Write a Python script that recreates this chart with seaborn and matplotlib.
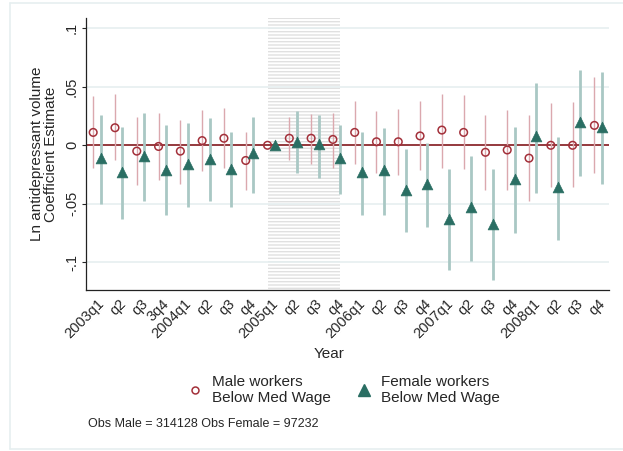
import numpy as np
import pandas as pd
import matplotlib
matplotlib.use('Agg')
import matplotlib.pyplot as plt
import seaborn as sns

# quarter labels as printed on the x axis
quarters = ['2003q1', 'q2', 'q3', '3q4', '2004q1', 'q2', 'q3', 'q4',
            '2005q1', 'q2', 'q3', 'q4', '2006q1', 'q2', 'q3', 'q4',
            '2007q1', 'q2', 'q3', 'q4', '2008q1', 'q2', 'q3', 'q4']

# male workers below median wage: estimate and 95% CI (2005q1 is the reference)
male_est = [0.011, 0.015, -0.005, -0.001, -0.005, 0.004, 0.006, -0.013,
            0.0, 0.006, 0.006, 0.005, 0.011, 0.003, 0.003, 0.008,
            0.013, 0.011, -0.006, -0.004, -0.011, 0.0, 0.0, 0.017]
male_hi = [0.042, 0.044, 0.024, 0.028, 0.022, 0.030, 0.032, 0.011,
           np.nan, 0.024, 0.027, 0.028, 0.038, 0.029, 0.031, 0.038,
           0.044, 0.043, 0.026, 0.030, 0.026, 0.036, 0.037, 0.058]
male_lo = [-0.019, -0.013, -0.034, -0.030, -0.033, -0.022, -0.019, -0.038,
           np.nan, -0.013, -0.016, -0.019, -0.016, -0.024, -0.025, -0.021,
           -0.019, -0.020, -0.038, -0.038, -0.048, -0.036, -0.036, -0.024]

# female workers below median wage
female_est = [-0.011, -0.023, -0.009, -0.021, -0.016, -0.012, -0.020, -0.007,
              0.0, 0.003, 0.001, -0.011, -0.023, -0.021, -0.038, -0.033,
              -0.063, -0.053, -0.067, -0.029, 0.008, -0.036, 0.020, 0.016]
female_hi = [0.026, 0.016, 0.028, 0.017, 0.019, 0.023, 0.011, 0.024,
             np.nan, 0.029, 0.026, 0.017, 0.011, 0.015, -0.003, 0.002,
             -0.020, -0.009, -0.020, 0.016, 0.053, 0.007, 0.064, 0.063]
female_lo = [-0.050, -0.063, -0.048, -0.060, -0.053, -0.048, -0.053, -0.041,
             np.nan, -0.024, -0.028, -0.042, -0.060, -0.060, -0.074, -0.070,
             -0.107, -0.099, -0.115, -0.075, -0.041, -0.081, -0.026, -0.033]

male_col = '#a3303a'
male_ci = '#dba8ae'
fem_col = '#2a6e63'
fem_ci = '#a9c8c4'
frame_col = '#e6eff0'

x = np.arange(len(quarters))
off = 0.17
df_m = pd.DataFrame({'x': x - off, 'est': male_est, 'lo': male_lo, 'hi': male_hi})
df_f = pd.DataFrame({'x': x + off, 'est': female_est, 'lo': female_lo, 'hi': female_hi})

sns.set_style('white')
plt.rcParams['font.family'] = ['Liberation Sans', 'DejaVu Sans']
plt.rcParams['hatch.linewidth'] = 1.0

fig = plt.figure(figsize=(6.23, 4.51), dpi=100)
ax = fig.add_axes([86 / 623, 1 - 290 / 451, (609 - 86) / 623, (290 - 18) / 451])

# light outline of the graph region
fig.add_artist(plt.Line2D([10 / 623, 10 / 623], [1 - 449 / 451, 1 - 3 / 451],
                          transform=fig.transFigure, color=frame_col, lw=1.2))
fig.add_artist(plt.Line2D([10 / 623, 1], [1 - 3 / 451, 1 - 3 / 451],
                          transform=fig.transFigure, color=frame_col, lw=1.2))
fig.add_artist(plt.Line2D([10 / 623, 1], [1 - 449 / 451, 1 - 449 / 451],
                          transform=fig.transFigure, color=frame_col, lw=1.2))

ax.set_xlim(-0.5, 23.5)
ax.set_ylim(-0.1237, 0.1088)

# shaded 2005 block with horizontal stripes
ax.axvspan(8 - off, 11 + off, facecolor='white', edgecolor='#e0e0e0',
           hatch='-----', lw=0, zorder=0)

for yv in [-0.1, -0.05, 0.05, 0.1]:
    ax.axhline(yv, color=frame_col, lw=1.2, zorder=0.5)
ax.axhline(0, color='#8c2a2e', lw=1.3, zorder=1)

ax.vlines(df_m['x'], df_m['lo'], df_m['hi'], color=male_ci, lw=1.0, zorder=2)
ax.vlines(df_f['x'], df_f['lo'], df_f['hi'], color=fem_ci, lw=2.0, zorder=2)

sns.scatterplot(data=df_m, x='x', y='est', ax=ax, marker='o', s=30,
                facecolor='none', edgecolor=male_col, linewidth=1.1, zorder=3)
sns.scatterplot(data=df_f, x='x', y='est', ax=ax, marker='^', s=60,
                color=fem_col, edgecolor=fem_col, linewidth=0.5, zorder=3)

ax.set_xticks(x)
ax.set_xticklabels(quarters, rotation=45, ha='right', rotation_mode='anchor',
                   fontsize=10.5)
ax.set_yticks([-0.1, -0.05, 0, 0.05, 0.1])
ax.set_yticklabels(['-.1', '-.05', '0', '.05', '.1'], rotation=90, va='center',
                   fontsize=10.5)
ax.tick_params(axis='x', length=0, pad=5)
ax.tick_params(axis='y', length=3, width=0.8, pad=2, left=True)

for s in ['top', 'right']:
    ax.spines[s].set_visible(False)
for s in ['left', 'bottom']:
    ax.spines[s].set_color('#222222')
    ax.spines[s].set_linewidth(0.9)

ax.set_xlabel('Year', fontsize=11)
ax.xaxis.set_label_coords((329 - 86) / 523, -(347 - 290) / 272)
ax.set_ylabel('Ln antidepressant volume\nCoefficient Estimate', fontsize=11,
              linespacing=1.0)
ax.yaxis.set_label_coords(-(86 - 58) / 523, 0.5)

h_m = plt.Line2D([], [], marker='o', ls='none', markersize=5, markerfacecolor='none',
                 markeredgecolor=male_col, markeredgewidth=1.1)
h_f = plt.Line2D([], [], marker='^', ls='none', markersize=9, color=fem_col)
fig.legend([h_m, h_f], ['Male workers\nBelow Med Wage', 'Female workers\nBelow Med Wage'],
           loc='center', bbox_to_anchor=(343 / 623, 1 - 390 / 451), ncol=2,
           frameon=False, fontsize=11, handletextpad=0.5, columnspacing=1.6,
           handlelength=1.2, labelspacing=0.2)

fig.text(88 / 623, 1 - 424 / 451, 'Obs Male = 314128 Obs Female = 97232',
         fontsize=9, va='center', ha='left')

fig.savefig('out.png', dpi=100, facecolor='white')
